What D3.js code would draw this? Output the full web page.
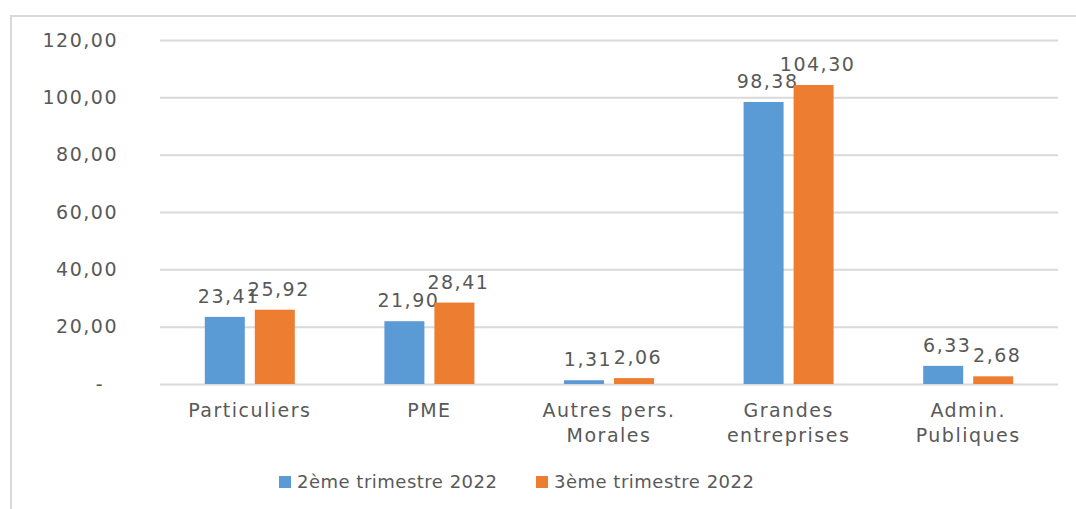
<!DOCTYPE html>
<html>
<head>
<meta charset="utf-8">
<script src="https://cdn.jsdelivr.net/npm/d3@7"></script>
<style>
  body { margin: 0; background: #fff; }
  text { font-family: "DejaVu Sans", sans-serif; fill: #595959; }
</style>
</head>
<body>
<div id="chart"></div>
<script>
// data
const categories = ["Particuliers", "PME", "Autres pers.|Morales", "Grandes|entreprises", "Admin.|Publiques"];
const seriesNames = ["2ème trimestre 2022", "3ème trimestre 2022"];
const q2Values = [23.41, 21.90, 1.31, 98.38, 6.33];
const q3Values = [25.92, 28.41, 2.06, 104.30, 2.68];
const yTicks = [0, 20, 40, 60, 80, 100, 120];
const colors = ["#5b9bd5", "#ed7d31"];

const W = 1076, H = 509;
const margin = { left: 160, right: 18, top: 40, bottom: 125 };

const svg = d3.select("#chart").append("svg")
    .attr("width", W)
    .attr("height", H);

// outer frame
svg.append("path")
    .attr("d", "M11,509 V16 H1076")
    .attr("fill", "none")
    .attr("stroke", "#d9d9d9")
    .attr("stroke-width", 2);

const x = d3.scaleBand()
    .domain(categories)
    .range([margin.left, W - margin.right])
    .paddingInner(0)
    .paddingOuter(0);

const y = d3.scaleLinear()
    .domain([0, 120])
    .range([H - margin.bottom, margin.top]);

const xSub = d3.scaleBand()
    .domain([0, 1])
    .range([x.bandwidth() / 2 - 45, x.bandwidth() / 2 + 45])
    .paddingInner(0.2);

// grid + y labels
const yAxis = d3.axisLeft(y)
    .tickValues(yTicks)
    .tickSize(-(W - margin.left - margin.right))
    .tickPadding(42)
    .tickFormat(d => d === 0 ? "-" : d3.format(".2f")(d).replace(".", ","));

const gy = svg.append("g")
    .attr("transform", `translate(${margin.left},0)`)
    .call(yAxis);
gy.select(".domain").remove();
gy.selectAll(".tick line").attr("stroke", "#d9d9d9").attr("stroke-width", 2);
gy.selectAll(".tick text")
    .attr("font-size", 19)
    .attr("letter-spacing", "1.5px")
    .attr("fill", "#595959")
    .attr("dx", d => d === 0 ? -14 : 0);

// bars
const series = [q2Values, q3Values];
const groups = svg.append("g").selectAll("g")
    .data(categories)
    .join("g")
    .attr("transform", d => `translate(${x(d)},0)`);

groups.each(function(cat, ci) {
    const g = d3.select(this);
    series.forEach((vals, si) => {
        const v = vals[ci];
        g.append("rect")
            .attr("x", xSub(si))
            .attr("y", y(v))
            .attr("width", xSub.bandwidth())
            .attr("height", y(0) - y(v))
            .attr("fill", colors[si]);
        g.append("text")
            .attr("x", xSub(si) + xSub.bandwidth() / 2 + 4)
            .attr("y", y(v) - 14)
            .attr("text-anchor", "middle")
            .attr("font-size", 19)
            .attr("letter-spacing", "1.5px")
            .text(d3.format(".2f")(v).replace(".", ","));
    });
});

// category labels
groups.append("text")
    .attr("x", x.bandwidth() / 2)
    .attr("y", 417)
    .attr("text-anchor", "middle")
    .attr("font-size", 19)
    .attr("letter-spacing", "1.5px")
    .selectAll("tspan")
    .data(d => d.split("|"))
    .join("tspan")
    .attr("x", x.bandwidth() / 2)
    .attr("dy", (d, i) => i === 0 ? 0 : 25)
    .text(d => d);

// legend
const legendX = [279, 536];
const legend = svg.append("g").selectAll("g")
    .data(seriesNames)
    .join("g")
    .attr("transform", (d, i) => `translate(${legendX[i]},476)`);
legend.append("rect")
    .attr("width", 12)
    .attr("height", 12)
    .attr("fill", (d, i) => colors[i]);
legend.append("text")
    .attr("x", 18)
    .attr("y", 12)
    .attr("font-size", 18)
    .attr("letter-spacing", "0.5px")
    .text(d => d);
</script>
</body>
</html>
